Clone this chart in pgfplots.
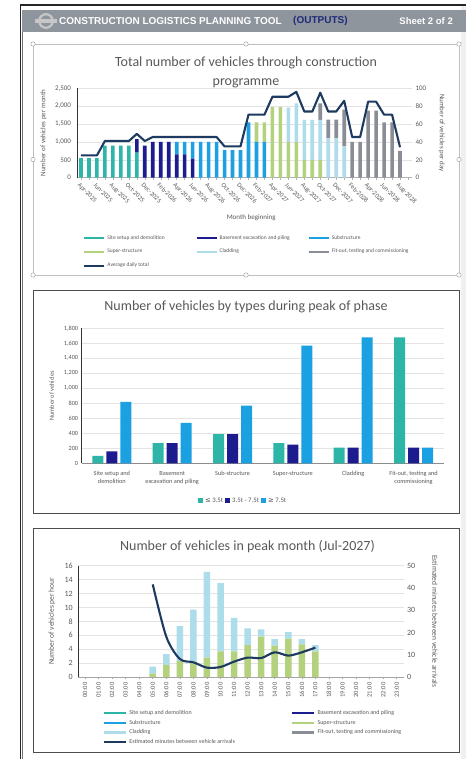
\documentclass[border=0pt]{standalone}
\usepackage{pgfplots}
\pgfplotsset{compat=1.18}
\usepackage{pgfplotstable}
\usepackage{fontspec}
\setmainfont{Carlito}
\newfontfamily\hdrfont{Liberation Sans}
\newfontfamily\dejavu{DejaVu Sans}

\definecolor{cteal}{HTML}{2DB6A8}
\definecolor{cnavy}{HTML}{1C1C8F}
\definecolor{cblue}{HTML}{1BA1E2}
\definecolor{cgreen}{HTML}{B4D27D}
\definecolor{cltblue}{HTML}{ADDDEB}
\definecolor{cgrey}{HTML}{898E96}
\definecolor{cline}{HTML}{1F3A60}
\definecolor{txt}{HTML}{595959}
\definecolor{hdrbg}{HTML}{8E959D}
\definecolor{hdrnavy}{HTML}{1F2A7A}
\definecolor{gridc}{HTML}{E3E3E3}

\newcommand{\fs}[1]{\fontsize{#1}{#1}\selectfont}

\pgfplotstableread{
x site base sub super clad fit
1 550 0 0 0 0 0
2 550 0 0 0 0 0
3 550 0 0 0 0 0
4 900 0 0 0 0 0
5 900 0 0 0 0 0
6 900 0 0 0 0 0
7 900 0 0 0 0 0
8 700 380 0 0 0 0
9 0 900 0 0 0 0
10 0 1000 0 0 0 0
11 0 1000 0 0 0 0
12 0 1000 0 0 0 0
13 0 650 350 0 0 0
14 0 650 350 0 0 0
15 0 530 470 0 0 0
16 0 0 1000 0 0 0
17 0 0 1000 0 0 0
18 0 0 1000 0 0 0
19 0 0 770 0 0 0
20 0 0 770 0 0 0
21 0 0 770 0 0 0
22 0 0 1550 0 0 0
23 0 0 1000 550 0 0
24 0 0 1000 550 0 0
25 0 0 0 1975 0 0
26 0 0 0 1975 0 0
27 0 0 0 1000 960 0
28 0 0 0 1000 1080 0
29 0 0 0 500 1120 0
30 0 0 0 500 1120 0
31 0 0 0 500 1120 460
32 0 0 0 0 1100 525
33 0 0 0 0 1100 525
34 0 0 0 0 875 1025
35 0 0 0 0 0 1000
36 0 0 0 0 0 1000
37 0 0 0 0 0 1875
38 0 0 0 0 0 1875
39 0 0 0 0 0 1550
40 0 0 0 0 0 1550
41 0 0 0 0 0 750
42 0 0 0 0 0 0
}\tblA

\pgfplotstableread{
h super clad
0 0 0
1 0 0
2 0 0
3 0 0
4 0 0
5 0.5 1.0
6 1.7 1.6
7 2.3 5.0
8 2.2 7.5
9 2.8 12.3
10 3.7 9.8
11 3.7 4.8
12 4.6 2.4
13 5.8 1.05
14 4.5 0.95
15 5.5 0.95
16 4.7 0.75
17 3.7 0.9
18 0 0
19 0 0
20 0 0
21 0 0
22 0 0
23 0 0
}\tblC

\begin{document}
\begin{tikzpicture}
\useasboundingbox (0,0) rectangle (466pt,759pt);
\fill[white] (0,0) rectangle (466pt,759pt);
\fill[black!6] (461pt,0) rectangle (466pt,754pt);
% outer border
\draw[black!85, line width=1.2pt] (20.5pt,0) -- (20.5pt,754pt) -- (466pt,754pt);
\draw[black!55, line width=0.4pt] (22.6pt,0) -- (22.6pt,749pt);
% header
\fill[hdrbg] (22pt,726.7pt) rectangle (466pt,749pt);
\draw[black!22, line width=2.2pt] (46pt,738pt) circle (6.8pt);
\fill[black!22] (35pt,736.2pt) rectangle (57pt,739.8pt);
\node[anchor=west, inner sep=0pt, font=\hdrfont\bfseries\fs{10}, text=white] at (59pt,738.3pt) {CONSTRUCTION LOGISTICS PLANNING TOOL};
\node[anchor=west, inner sep=0pt, font=\hdrfont\bfseries\fs{10}, text=hdrnavy] at (293pt,738.3pt) {(OUTPUTS)};
\node[anchor=east, inner sep=0pt, font=\hdrfont\bfseries\fs{9.5}, text=white] at (453pt,738.3pt) {Sheet 2 of 2};

% panel frames
\draw[black!25, line width=0.7pt] (33pt,484pt) rectangle (459pt,715pt);
\foreach \px/\py in {33/715,246/715,459/715,33/599.5,459/599.5,33/484,246/484,459/484}
  {\draw[black!35, fill=white, line width=0.5pt] (\px pt,\py pt) circle (2.2pt);}
\draw[black!70, line width=0.8pt] (33pt,246pt) rectangle (459pt,469pt);
\draw[black!70, line width=0.8pt] (33pt,7pt) rectangle (459pt,231pt);

% titles
\node[font=\fs{14}, text=txt, inner sep=0pt] at (246pt,696pt) {Total number of vehicles through construction};
\node[font=\fs{14}, text=txt, inner sep=0pt] at (246pt,676pt) {programme};
\node[font=\fs{14}, text=txt, inner sep=0pt] at (246pt,452.3pt) {Number of vehicles by types during peak of phase};
\node[font=\fs{14}, text=txt, inner sep=0pt] at (247.5pt,212.3pt) {Number of vehicles in peak month (Jul-2027)};

% ---------- Chart 1 ----------
\begin{axis}[
  at={(77pt,581.3pt)}, anchor=south west, scale only axis,
  width=335pt, height=89.4pt,
  xmin=0.5, xmax=42.5, ymin=0, ymax=2500,
  ybar stacked, bar width=3.6pt,
  axis x line*=bottom, axis y line*=left,
  x axis line style={draw=black!30, line width=0.6pt, -},
  y axis line style={draw=black!80, line width=0.9pt, -},
  xtick={1,3,...,41}, minor xtick={2,4,...,42},
  xticklabels={Apr-2025,Jun-2025,Aug-2025,Oct-2025,Dec-2025,Feb-2026,Apr-2026,Jun-2026,Aug-2026,Oct-2026,Dec-2026,Feb-2027,Apr-2027,Jun-2027,Aug-2027,Oct-2027,Dec-2027,Feb-2028,Apr-2028,Jun-2028,Aug-2028},
  tick align=outside, major tick length=2.5pt, minor tick length=2.5pt,
  xtick style={draw=black!30, line width=0.5pt},
  minor tick style={draw=black!30, line width=0.5pt},
  xticklabel style={rotate=-45, anchor=north west, font=\fs{6.5}, text=txt, inner sep=1pt, yshift=-1pt},
  ytick={0,500,...,2500}, ytick style={draw=none},
  yticklabel style={font=\fs{7}, text=txt},
  ymajorgrids, grid style={draw=gridc, line width=0.6pt},
  ylabel={Number of vehicles per month},
  ylabel style={at={(axis description cs:-0.10,0.5)}, anchor=center, font=\fs{7}, text=txt},
  xlabel={Month beginning},
  xlabel style={at={(axis description cs:0.52,-0.45)}, anchor=center, font=\fs{7}, text=txt},
  /pgf/number format/assume math mode=true, /pgf/number format/1000 sep={,},
]
\addplot[fill=cteal, draw=none] table[x=x, y=site] {\tblA};
\addplot[fill=cnavy, draw=none] table[x=x, y=base] {\tblA};
\addplot[fill=cblue, draw=none] table[x=x, y=sub] {\tblA};
\addplot[fill=cgreen, draw=none] table[x=x, y=super] {\tblA};
\addplot[fill=cltblue, draw=none] table[x=x, y=clad] {\tblA};
\addplot[fill=cgrey, draw=none] table[x=x, y=fit] {\tblA};
\end{axis}
\begin{axis}[
  at={(77pt,581.3pt)}, anchor=south west, scale only axis,
  width=335pt, height=89.4pt,
  xmin=0.5, xmax=42.5, ymin=0, ymax=100,
  axis y line*=right, axis x line=none,
  y axis line style={draw=none},
  ytick={0,20,...,100}, ytick style={draw=none},
  yticklabel style={font=\fs{7}, text=txt},
  ylabel={Number of vehicles per day},
  ylabel style={at={(axis description cs:1.089,0.5)}, anchor=center, rotate=180, font=\fs{7}, text=txt},
  legend columns=3,
  legend style={at={(axis description cs:0.018,-0.62)}, anchor=north west, draw=none, fill=none, font=\fs{5.5}, text=txt, inner sep=0pt, row sep=4.5pt},
  legend cell align=left,
  legend image code/.code={\draw[#1] (0pt,0pt) -- (20pt,0pt);},
  /pgf/number format/assume math mode=true,
]
\addlegendimage{cteal, line width=2.2pt}\addlegendentry{\makebox[86pt][l]{Site setup and demolition}}
\addlegendimage{cnavy, line width=2.2pt}\addlegendentry{\makebox[86pt][l]{Basement excavation and piling}}
\addlegendimage{cblue, line width=2.2pt}\addlegendentry{\makebox[86pt][l]{Substructure}}
\addlegendimage{cgreen, line width=2.2pt}\addlegendentry{\makebox[86pt][l]{Super-structure}}
\addlegendimage{cltblue, line width=2.2pt}\addlegendentry{\makebox[86pt][l]{Cladding}}
\addlegendimage{cgrey, line width=2.2pt}\addlegendentry{\makebox[86pt][l]{Fit-out, testing and commissioning}}
\addplot[cline, line width=2.1pt, line join=round] coordinates {
(1,25) (2,25) (3,25) (4,41) (5,41) (6,41) (7,41) (8,49) (9,41) (10,45.5)
(11,45.5) (12,45.5) (13,45.5) (14,45.5) (15,45.5) (16,45.5) (17,45.5) (18,45.5)
(19,35) (20,35) (21,35) (22,70.5) (23,70.5) (24,70.5) (25,90.5) (26,90.5) (27,90.5)
(28,96) (29,74) (30,74) (31,95) (32,74) (33,74) (34,86) (35,45.5) (36,45.5)
(37,85) (38,85) (39,70.5) (40,70.5) (41,34)};
\addlegendentry{\makebox[86pt][l]{Average daily total}}
\end{axis}

% ---------- Chart 2 ----------
\begin{axis}[
  at={(81.7pt,295.7pt)}, anchor=south west, scale only axis,
  width=362pt, height=135pt,
  xmin=-0.5, xmax=5.5, ymin=0, ymax=1800,
  ybar=3pt, bar width=11pt,
  axis x line*=bottom, axis y line*=left,
  x axis line style={draw=black!45, line width=0.6pt, -},
  y axis line style={draw=black!80, line width=0.9pt, -},
  xtick={0,...,5}, xtick style={draw=none},
  xticklabels={{Site setup and\\demolition},{Basement\\excavation and piling},{Sub-structure},{Super-structure},{Cladding},{Fit-out, testing and\\commissioning}},
  xticklabel style={align=center, font=\fontsize{6.3}{8.5}\selectfont, text=txt, anchor=north},
  ytick={0,200,...,1800}, ytick style={draw=none},
  yticklabel style={font=\fs{6.3}, text=txt},
  ymajorgrids, grid style={draw=gridc, line width=0.6pt},
  ylabel={Number of vehicles},
  ylabel style={at={(axis description cs:-0.083,0.5)}, anchor=center, font=\fs{6.3}, text=txt},
  legend columns=3,
  legend style={at={(axis description cs:0.446,-0.277)}, anchor=center, draw=none, fill=none, font=\fs{6.8}, text=txt},
  legend image code/.code={\fill[#1] (0pt,-2.4pt) rectangle (5pt,2.6pt);},
  /pgf/number format/assume math mode=true, /pgf/number format/1000 sep={,},
]
\addplot[fill=cteal, draw=none] coordinates {(0,100) (1,270) (2,390) (3,270) (4,210) (5,1680)};
\addplot[fill=cnavy, draw=none] coordinates {(0,160) (1,270) (2,390) (3,250) (4,210) (5,210)};
\addplot[fill=cblue, draw=none] coordinates {(0,820) (1,540) (2,770) (3,1570) (4,1680) (5,210)};
\legend{{{\dejavu ≤} 3.5t\hspace{4pt}},{3.5t - 7.5t\hspace{4pt}},{{\dejavu ≥} 7.5t}}
\end{axis}

% ---------- Chart 3 ----------
\begin{axis}[
  at={(78.2pt,82pt)}, anchor=south west, scale only axis,
  width=325.3pt, height=111.3pt,
  xmin=-0.5, xmax=23.5, ymin=0, ymax=16,
  ybar stacked, bar width=6.5pt,
  axis x line*=bottom, axis y line*=left,
  x axis line style={draw=black!35, line width=0.6pt, -},
  y axis line style={draw=black!80, line width=0.9pt, -},
  xtick={0,...,23},
  xticklabels={00:00,01:00,02:00,03:00,04:00,05:00,06:00,07:00,08:00,09:00,10:00,11:00,12:00,13:00,14:00,15:00,16:00,17:00,18:00,19:00,20:00,21:00,22:00,23:00},
  tick align=outside, major tick length=2pt,
  xtick style={draw=black!35, line width=0.5pt},
  xticklabel style={rotate=90, anchor=east, font=\fs{6.5}, text=txt},
  ytick={0,2,...,16}, ytick style={draw=none},
  yticklabel style={font=\fs{8}, text=txt},
  ymajorgrids, grid style={draw=gridc, line width=0.6pt},
  ylabel={Number of vehicles per hour},
  ylabel style={at={(axis description cs:-0.081,0.5)}, anchor=center, font=\fs{7.5}, text=txt},
  /pgf/number format/assume math mode=true,
]
\addplot[fill=cgreen, draw=none] table[x=h, y=super] {\tblC};
\addplot[fill=cltblue, draw=none] table[x=h, y=clad] {\tblC};
\end{axis}
\begin{axis}[
  at={(78.2pt,82pt)}, anchor=south west, scale only axis,
  width=325.3pt, height=111.3pt,
  xmin=-0.5, xmax=23.5, ymin=0, ymax=50,
  axis y line*=right, axis x line=none,
  y axis line style={draw=none},
  ytick={0,10,...,50}, ytick style={draw=none},
  yticklabel style={font=\fs{8}, text=txt},
  ylabel={Estimated minutes between vehicle arrivals},
  ylabel style={at={(axis description cs:1.097,0.5)}, anchor=center, rotate=180, font=\fs{7.5}, text=txt},
  legend columns=2,
  legend style={at={(axis description cs:0.076,-0.28)}, anchor=north west, draw=none, fill=none, font=\fs{6}, text=txt, inner sep=0pt, row sep=0pt},
  legend cell align=left,
  legend image code/.code={\draw[#1] (0pt,0pt) -- (22pt,0pt);},
  /pgf/number format/assume math mode=true,
]
\addlegendimage{cteal, line width=2.2pt}\addlegendentry{\makebox[160pt][l]{Site setup and demolition}}
\addlegendimage{cnavy, line width=2.2pt}\addlegendentry{\makebox[120pt][l]{Basement excavation and piling}}
\addlegendimage{cblue, line width=2.2pt}\addlegendentry{\makebox[160pt][l]{Substructure}}
\addlegendimage{cgreen, line width=2.2pt}\addlegendentry{\makebox[120pt][l]{Super-structure}}
\addlegendimage{cltblue, line width=2.2pt}\addlegendentry{\makebox[160pt][l]{Cladding}}
\addlegendimage{cgrey, line width=2.2pt}\addlegendentry{\makebox[120pt][l]{Fit-out, testing and commissioning}}
\addplot[cline, line width=2.1pt, smooth, line join=round] coordinates {
(5,41.6) (6,18.1) (7,8.1) (8,6.6) (9,4.2) (10,4.5) (11,6.9) (12,8.7) (13,8.5)
(14,11.1) (15,9.6) (16,11.1) (17,13.2)};
\addlegendentry{\makebox[160pt][l]{Estimated minutes between vehicle arrivals}}
\end{axis}
\end{tikzpicture}
\end{document}
